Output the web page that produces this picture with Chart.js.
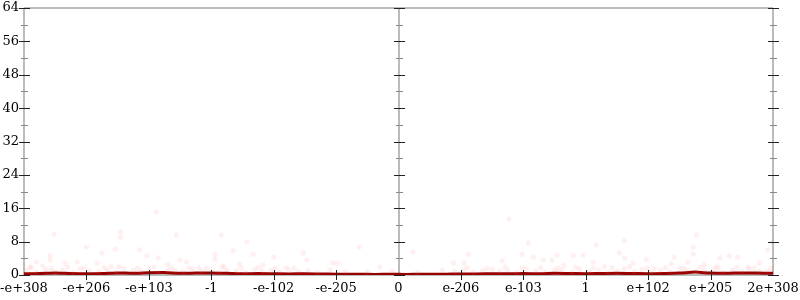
<!DOCTYPE html>
<html>
<head>
<meta charset="utf-8">
<script src="https://cdn.jsdelivr.net/npm/chart.js@4/dist/chart.umd.min.js"></script>
<style>
    html, body { margin: 0; padding: 0; background: #fff; }
    #wrap { width: 800px; height: 300px; }
</style>
</head>
<body>
<div id="wrap"><canvas id="chart1"></canvas></div>
<script>
// tick labels along the bottom, one per unit step of x
const xLabels = ["-e+308", "-e+206", "-e+103", "-1", "-e-102", "-e-205", "0",
    "e-206", "e-103", "1", "e+102", "e+205", "2e+308"];
const yMax = 64;
const yStep = 8;

// faint samples
const sampleX = [0.48, 1.0, 0.42, 0.42, 0.2, 1.25, 1.46, 1.55, 1.55, 2.12, 1.85, 1.97, 2.15, 2.44, 2.5, 2.6,
    0.85, 0.66, 1.17, 3.16, 3.57, 3.35, 3.06, 3.06, 3.67, 4.0, 4.47, 4.53, 3.83, 4.95, 5.02, 5.37, 5.7,
    6.23, 7.12, 6.88, 7.05, 7.77, 8.08, 7.98, 8.16, 7.66, 8.32, 8.46, 8.54, 8.8, 8.96, 9.17, 9.12,
    9.62, 9.54, 9.62, 9.76, 9.97, 10.42, 10.37, 10.78, 10.72, 10.72, 10.64, 11.15, 11.3, 11.43, 11.78, 11.92, 11.99,
    0.1, 0.3, 1.4, 2.3, 2.8, 3.2, 3.45, 4.2, 8.65, 9.3, 10.1, 10.9, 11.1, 11.6,
    0.05, 0.2, 0.35, 0.5, 0.62, 0.78, 0.9, 1.05, 1.2, 1.33, 1.48, 1.6, 1.75, 1.88, 2.0, 2.15, 2.3, 2.42,
    2.55, 2.7, 2.85, 3.0, 3.12, 3.25, 3.4, 3.55, 3.7, 3.82, 3.95, 4.1, 4.25, 4.4, 4.55, 4.7, 4.9, 5.15,
    5.5, 5.9, 6.3, 6.7, 6.9, 7.05, 7.2, 7.35, 7.5, 7.62, 7.75, 7.9, 8.05, 8.2, 8.35, 8.5, 8.62, 8.78,
    8.9, 9.05, 9.2, 9.35, 9.5, 9.62, 9.78, 9.9, 10.05, 10.2, 10.35, 10.5, 10.62, 10.78, 10.9, 11.05,
    11.2, 11.35, 11.5, 11.62, 11.78, 11.9,
    0.12, 0.44, 0.7, 0.96, 1.28, 1.52, 1.82, 2.08, 2.36, 2.64, 2.92, 3.18, 3.48, 3.76, 4.02, 4.33,
    7.1, 7.42, 7.7, 7.98, 8.28, 8.56, 8.84, 9.12, 9.42, 9.7, 9.98, 10.28, 10.56, 10.84, 11.12, 11.42, 11.7, 11.96];
const sampleY = [9.8, 6.7, 4.6, 3.6, 3.1, 5.3, 6.2, 10.3, 9.1, 15.1, 6.0, 4.6, 4.1, 9.6, 3.6, 3.1,
    3.1, 2.9, 2.9, 9.6, 7.9, 5.8, 5.0, 3.8, 5.0, 4.3, 5.3, 3.6, 2.4, 2.9, 2.9, 6.7, 1.9,
    5.5, 5.0, 2.9, 2.9, 13.4, 7.7, 5.0, 4.3, 3.4, 3.6, 3.6, 4.8, 4.6, 4.8, 7.2, 3.1,
    8.2, 5.3, 4.1, 2.9, 3.8, 4.3, 2.6, 9.6, 6.7, 5.0, 3.1, 4.1, 4.6, 4.3, 2.9, 6.0, 7.9,
    1.9, 2.2, 2.0, 2.5, 1.7, 2.2, 2.6, 1.8, 2.3, 2.0, 1.6, 2.4, 2.2, 1.9,
    1.1, 0.7, 1.4, 0.9, 1.2, 0.6, 1.5, 1.0, 0.8, 1.3, 0.7, 1.6, 1.1, 0.9, 1.4, 0.6, 1.2, 1.0,
    0.8, 1.5, 0.9, 1.2, 0.7, 1.3, 1.0, 0.6, 1.4, 0.9, 1.1, 0.7, 1.2, 0.8, 1.0, 0.6, 1.3, 0.8,
    0.7, 0.9, 0.6, 1.1, 0.8, 1.3, 0.7, 1.0, 1.4, 0.9, 1.2, 0.6, 1.5, 1.0, 0.8, 1.3, 1.1, 0.7,
    1.4, 0.9, 1.2, 0.6, 1.0, 1.5, 0.8, 1.3, 0.7, 1.1, 0.9, 1.6, 1.2, 0.8, 1.0, 1.4,
    0.7, 1.2, 0.9, 1.5, 1.0, 0.8,
    1.8, 1.6, 1.9, 1.7, 1.8, 2.0, 1.6, 1.9, 1.7, 1.8, 1.6, 1.9, 1.7, 1.8, 1.6, 1.7,
    1.8, 1.6, 1.9, 1.7, 1.8, 1.6, 1.9, 1.7, 1.8, 2.0, 1.6, 1.8, 1.7, 1.9, 1.6, 1.8, 1.7, 1.6];

// dark running line
const lineX = [0, 0.25, 0.5, 0.75, 1, 1.25, 1.5, 1.75, 2, 2.25, 2.5, 2.75, 3, 3.25, 3.5, 3.75, 4,
    4.25, 4.5, 4.75, 5, 5.25, 5.5, 5.75, 6, 6.25, 6.5, 6.75, 7, 7.25, 7.5, 7.75, 8, 8.25,
    8.5, 8.75, 9, 9.25, 9.5, 9.75, 10, 10.25, 10.5, 10.75, 11, 11.25, 11.5, 11.75, 12];
const lineY = [0.3, 0.35, 0.45, 0.35, 0.3, 0.35, 0.5, 0.4, 0.55, 0.6, 0.4, 0.45, 0.5, 0.4, 0.3, 0.35, 0.3,
    0.25, 0.3, 0.25, 0.2, 0.2, 0.15, 0.15, 0.15, 0.15, 0.2, 0.2, 0.25, 0.25, 0.3, 0.3, 0.35, 0.3,
    0.4, 0.35, 0.3, 0.35, 0.4, 0.35, 0.3, 0.35, 0.45, 0.7, 0.45, 0.4, 0.5, 0.45, 0.4];

const serif = "'DejaVu Serif', serif";

// axis lines and crossing ticks, drawn from the scales
const axesPlugin = {
    id: 'axesPlugin',
    beforeDatasetsDraw(chart) {
        const ctx = chart.ctx;
        const a = chart.chartArea;
        const x = chart.scales.x;
        ctx.save();
        ctx.strokeStyle = '#bbbbbb';
        ctx.lineWidth = 2;
        ctx.beginPath();
        ctx.moveTo(a.left, a.top); ctx.lineTo(a.right, a.top);
        ctx.moveTo(a.left, a.bottom); ctx.lineTo(a.right, a.bottom);
        [0, 6, 12].forEach(v => {
            const px = Math.round(x.getPixelForValue(v));
            ctx.moveTo(px, a.top); ctx.lineTo(px, a.bottom);
        });
        ctx.stroke();
        ctx.restore();
    },
    afterDatasetsDraw(chart) {
        const ctx = chart.ctx;
        const a = chart.chartArea;
        const x = chart.scales.x;
        const y = chart.scales.y;
        ctx.save();
        ctx.lineWidth = 1;
        [0, 6, 12].forEach(v => {
            const px = Math.round(x.getPixelForValue(v));
            for (let t = 0; t <= yMax; t += yStep / 2) {
                const py = Math.round(y.getPixelForValue(t)) + 0.5;
                const major = t % yStep === 0;
                const len = major ? 5 : 3;
                ctx.strokeStyle = major ? '#222' : '#888';
                ctx.beginPath();
                ctx.moveTo(px - len, py); ctx.lineTo(px + len + 1, py);
                ctx.stroke();
            }
        });
        ctx.strokeStyle = '#222';
        for (let i = 1; i < xLabels.length - 1; i++) {
            if (i === 6) continue;
            const px = Math.round(x.getPixelForValue(i)) + 0.5;
            ctx.beginPath();
            ctx.moveTo(px, a.bottom - 5); ctx.lineTo(px, a.bottom + 5);
            ctx.stroke();
        }
        ctx.restore();
    }
};

function noPad(s) {
    s.paddingLeft = 0;
    s.paddingRight = 0;
    s.paddingTop = 0;
    s.paddingBottom = 0;
}

const ctx = document.getElementById('chart1').getContext('2d');
const chart = new Chart(ctx, {
    data: {
        datasets: [{
                type: 'scatter',
                data: sampleX.map((v, i) => ({x: v, y: sampleY[i]})),
                backgroundColor: 'rgba(255, 110, 110, 0.1)',
                borderWidth: 0,
                pointRadius: 2.6
            }, {
                type: 'line',
                data: lineX.map((v, i) => ({x: v, y: lineY[i]})),
                borderColor: '#9a0000',
                borderWidth: 3,
                pointRadius: 0,
                tension: 0.3
            }]
    },
    options: {
        responsive: true,
        maintainAspectRatio: false,
        animation: false,
        layout: {padding: {top: 8, right: 27, left: 0, bottom: 0}},
        plugins: {
            legend: {display: false},
            tooltip: {enabled: false}
        },
        scales: {
            x: {
                type: 'linear',
                min: 0,
                max: 12,
                grid: {display: false, drawTicks: false},
                border: {display: false},
                ticks: {
                    stepSize: 1,
                    autoSkip: false,
                    maxRotation: 0,
                    padding: 6,
                    color: '#000',
                    font: {family: serif, size: 13},
                    callback: v => xLabels[v]
                },
                afterFit: s => { s.height = 25; noPad(s); }
            },
            y: {
                min: 0,
                max: yMax,
                grid: {display: false, drawTicks: false},
                border: {display: false},
                ticks: {
                    stepSize: yStep,
                    padding: 5,
                    color: '#000',
                    font: {family: serif, size: 13}
                },
                afterFit: s => { s.width = 24; noPad(s); }
            }
        }
    },
    plugins: [axesPlugin]
});
</script>
</body>
</html>
